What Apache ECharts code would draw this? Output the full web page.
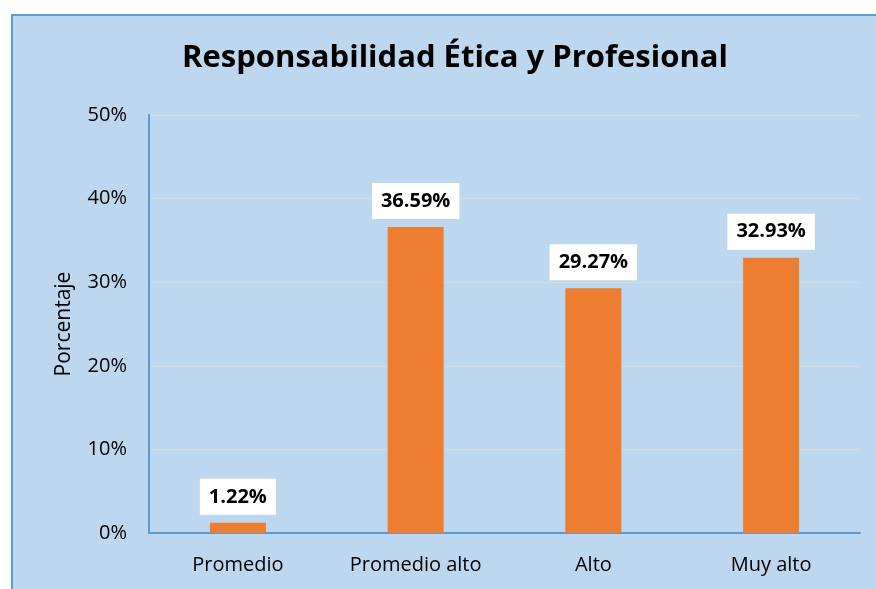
<!DOCTYPE html>
<html style="height: 100%">
<head>
    <meta charset="utf-8">
    <script src="https://cdn.jsdelivr.net/npm/echarts@6.0.0/dist/echarts.min.js"></script>
</head>
<body style="height: 100%; margin: 0; background: #fff; overflow: hidden">
    <div style="position: absolute; left: 11px; top: 14px; width: 900px; height: 600px; border: 2px solid #5B9BD5; background: #BDD7EE"></div>
    <div id="container" style="position: absolute; left: 0; top: 0; width: 876px; height: 589px"></div>
    <script type="text/javascript">
        var myChart = echarts.init(document.getElementById('container'));

        // categorías y valores (%)
        var categories = ['Promedio', 'Promedio alto', 'Alto', 'Muy alto'];
        var values = [1.22, 36.59, 29.27, 32.93];
        var yTicks = [0, 10, 20, 30, 40, 50];

        var fontFamily = '"Open Sans", "Noto Sans", sans-serif';

        var option = {
            backgroundColor: 'transparent',
            title: {
                text: 'Responsabilidad Ética y Profesional',
                left: 450, top: 38,
                textAlign: 'center',
                textStyle: { fontSize: 31, fontWeight: 'bold', color: '#000', fontFamily: fontFamily }
            },
            grid: { left: 149, right: 16, top: 115, bottom: 56, containLabel: false },
            xAxis: {
                type: 'category',
                data: categories,
                axisLine: { lineStyle: { color: '#5B9BD5', width: 2 } },
                axisTick: { show: false },
                axisLabel: { interval: 0, fontSize: 20, color: '#000', margin: 22, fontFamily: fontFamily }
            },
            yAxis: {
                type: 'value',
                min: yTicks[0], max: yTicks[yTicks.length - 1], interval: 10,
                name: 'Porcentaje',
                nameLocation: 'middle',
                nameGap: 74,
                nameTextStyle: { fontSize: 21, color: '#000', fontFamily: fontFamily },
                axisLine: { show: true, lineStyle: { color: '#5B9BD5', width: 2 } },
                axisTick: { show: false },
                axisLabel: { fontSize: 20, color: '#000', margin: 22, fontFamily: fontFamily, formatter: '{value}%' },
                splitLine: { lineStyle: { color: '#D9D9D9', width: 1 } }
            },
            series: [{
                type: 'bar',
                data: values,
                barWidth: 56,
                itemStyle: { color: '#ED7D31' },
                label: {
                    show: true,
                    position: 'top',
                    distance: 8,
                    formatter: function (p) { return p.value.toFixed(2) + '%'; },
                    fontSize: 20, fontWeight: 'bold', color: '#000', fontFamily: fontFamily,
                    backgroundColor: '#fff',
                    padding: [8, 9, 8, 9]
                }
            }],
            animation: false
        };

        myChart.setOption(option);
        window.addEventListener('resize', function () { myChart.resize(); });
    </script>
</body>
</html>
